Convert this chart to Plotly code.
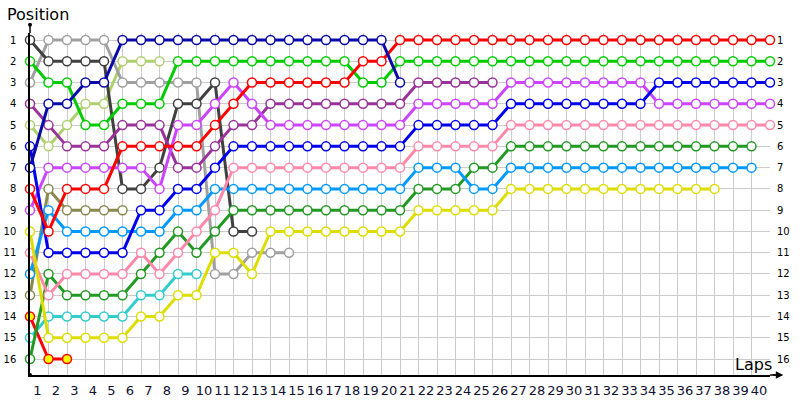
import plotly.graph_objects as go

lap_labels = [str(i) for i in range(1, 41)]
positions_axis = list(range(1, 17))

# positions per lap, starting at lap 0 (grid)
navy = [7, 4, 4, 3, 3, 1] + [1] * 14 + [3]
blue = [6] + [11] * 5 + [9, 9, 8, 8, 7, 6] + [6] * 9 + [5] * 5 + [4] * 8 + [3] * 7
red = [8, 10, 8, 8, 8] + [6] * 5 + [5, 4] + [3] * 6 + [2, 2] + [1] * 21
green = [2, 3, 3, 5, 5, 4, 4, 4] + [2] * 10 + [3, 3] + [2] * 21
light_gray = [3, 1, 1, 1, 1, 3, 3, 3, 3, 3, 12, 12, 11, 11, 11]
dark_gray = [1, 2, 2, 2, 2, 8, 8, 7, 4, 4, 3, 10, 10]
purple = [4, 5, 6, 6, 6, 5, 5, 5, 7, 7, 6, 5, 5] + [4] * 8 + [3] * 5
violet = [9] + [7] * 6 + [8, 5, 5, 4, 3, 4] + [5] * 8 + [4] * 5 + [3] * 8 + [4] * 7
light_olive = [5, 6, 5, 4, 4, 2, 2, 2]
olive = [13, 8, 9, 9, 9, 9]
yellow = [10] + [15] * 5 + [14, 14, 13, 13, 11, 11, 12] + [10] * 8 + [9] * 5 + [8] * 12
pink = [11, 13, 12, 12, 12, 12, 11, 12, 11, 10, 9] + [7] * 10 + [6] * 5 + [5] * 15
sky_blue = [12, 9] + [10] * 6 + [9, 9] + [8] * 11 + [7] * 3 + [8, 8] + [7] * 14
dark_green = [16, 12, 13, 13, 13, 13, 12, 11, 10, 11, 10] + [9] * 10 + [8] * 3 + [7, 7] + [6] * 14
cyan = [15, 14, 14, 14, 14, 14, 13, 13, 12, 12]
red_yellow = [14, 16, 16]

series = [
    (light_olive, "#b0d070", "white"),
    (olive, "#8a8a50", "white"),
    (cyan, "#33cccc", "white"),
    (red_yellow, "#ff0000", "#ffff00"),
    (light_gray, "#a0a0a0", "white"),
    (dark_gray, "#404040", "white"),
    (dark_green, "#229922", "white"),
    (sky_blue, "#0099ff", "white"),
    (pink, "#ff88aa", "white"),
    (yellow, "#dddd00", "white"),
    (purple, "#993399", "white"),
    (violet, "#cc44ff", "white"),
    (blue, "#0000ee", "white"),
    (green, "#00cc00", "white"),
    (red, "#ff0000", "white"),
    (navy, "#0a0aa8", "white"),
]

fig = go.Figure()
for vals, col, fill in series:
    fig.add_trace(go.Scatter(
        x=list(range(len(vals))), y=vals, mode="lines+markers",
        line=dict(color=col, width=3),
        marker=dict(size=9, color=fill, line=dict(color=col, width=1.5)),
        showlegend=False, hoverinfo="skip", cliponaxis=False,
    ))

# helper trace for right axis
fig.add_trace(go.Scatter(x=[0], y=[1], yaxis="y2", mode="markers",
                         marker=dict(opacity=0), showlegend=False, hoverinfo="skip"))

font_family = "DejaVu Sans"
yr = [16.75, 0.67]
fig.update_layout(
    width=800, height=400,
    margin=dict(l=30, r=30, t=33, b=25, autoexpand=False),
    paper_bgcolor="white", plot_bgcolor="white",
    font=dict(family=font_family, color="black"),
    xaxis=dict(range=[0, 40], tickvals=list(range(1, 41)), ticktext=lap_labels,
               showgrid=True, gridcolor="#cccccc", gridwidth=1, zeroline=False,
               showline=True, linecolor="black", linewidth=1.5, automargin=False,
               ticks="", ticklabelshift=-11, ticklabelstandoff=3, tickangle=0,
               tickfont=dict(size=13, color="#101030")),
    yaxis=dict(range=yr, tickvals=positions_axis, ticktext=[str(p) for p in positions_axis],
               showgrid=True, gridcolor="#cccccc", gridwidth=1, zeroline=False,
               showline=True, linecolor="black", linewidth=1.5, automargin=False,
               ticks="", ticklabelstandoff=10, tickfont=dict(size=10)),
    yaxis2=dict(range=yr, overlaying="y", side="right", tickvals=positions_axis,
                ticktext=[str(p) for p in positions_axis], showgrid=False, automargin=False,
                zeroline=False, showline=False, ticks="", ticklabelstandoff=6,
                tickfont=dict(size=10)),
)

fig.add_shape(type="line", xref="paper", yref="paper", x0=0, x1=0, y0=1, y1=1.024,
              line=dict(color="black", width=1.5))
fig.add_shape(type="circle", xref="paper", yref="paper", xsizemode="pixel", ysizemode="pixel",
              xanchor=0, yanchor=1.024, x0=-2, x1=2, y0=-2, y1=2,
              fillcolor="black", line=dict(color="black", width=0))
fig.add_shape(type="circle", xref="paper", yref="paper", xsizemode="pixel", ysizemode="pixel",
              xanchor=0, yanchor=0, x0=-2, x1=2, y0=-2, y1=2,
              fillcolor="black", line=dict(color="black", width=0))
fig.add_shape(type="line", xref="paper", yref="paper", x0=1, x1=1.008, y0=0, y1=0,
              line=dict(color="black", width=1.5))
fig.add_annotation(xref="paper", yref="paper", x=1.018, y=0, ax=-12, ay=0,
                   showarrow=True, arrowhead=2, arrowsize=1, arrowwidth=1.5,
                   arrowcolor="black", text="")
fig.add_annotation(xref="paper", yref="paper", x=-0.034, y=1.053, xanchor="left",
                   yanchor="middle", text="Position", showarrow=False,
                   font=dict(size=16, family=font_family))
fig.add_annotation(xref="paper", yref="paper", x=1.006, y=0.03, xanchor="right",
                   yanchor="middle", text="Laps", showarrow=False,
                   font=dict(size=16, family=font_family))

fig.write_html("out.html", config={"displayModeBar": False},
               post_script="document.body.style.margin='0';")
